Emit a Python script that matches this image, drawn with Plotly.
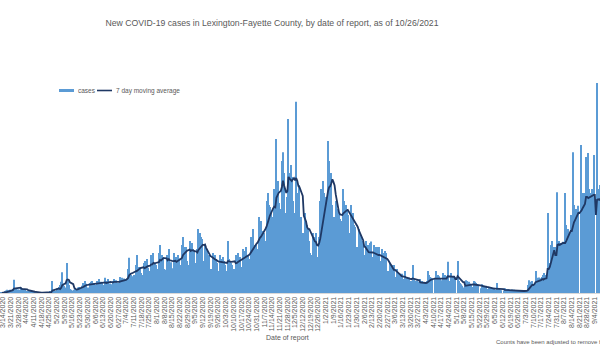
import pandas as pd
import plotly.graph_objects as go

# ---- data (daily new cases by date of report) ----
start_date = "2020-03-07"

cases_2020_spring = [
    0, 0, 0, 0, 0, 1, 0,
    1, 2, 3, 6, 8, 7, 8,
    6, 5, 10, 33, 12, 10, 8,
    9, 8, 14, 12, 10, 8, 9,
    5, 4, 3, 5, 4, 3, 4,
    1, 2, 1, 0, 2, 1, 1,
    1, 0, 2, 1, 1, 2, 1,
    2, 3, 4, 30, 6, 5, 3,
    12, 8, 15, 20, 28, 52, 20,
    18, 14, 75, 30, 20, 10, 8,
    6, 5, 8, 12, 10, 14, 15,
    12, 10, 18, 25, 22, 30, 23,
    14, 12, 25, 28, 30, 20, 25,
]
cases_2020_summer = [
    20, 15, 30, 35, 22, 28, 25,
    18, 20, 38, 25, 30, 35, 24,
    22, 18, 30, 35, 28, 32, 24,
    25, 20, 40, 38, 30, 36, 35,
    30, 35, 60, 88, 50, 45, 42,
    45, 40, 70, 95, 60, 65, 60,
    50, 45, 75, 80, 72, 85, 63,
    55, 50, 95, 80, 100, 75, 70,
    60, 55, 100, 120, 90, 95, 90,
    60, 58, 95, 85, 110, 75, 77,
    62, 55, 100, 85, 90, 95, 87,
    70, 65, 120, 140, 110, 115, 115,
    80, 70, 130, 115, 125, 110, 105,
]
cases_2020_fall = [
    75, 70, 110, 160, 150, 140, 135,
    80, 65, 120, 100, 110, 95, 95,
    60, 55, 100, 90, 95, 85, 75,
    55, 50, 95, 85, 90, 80, 70,
    55, 50, 130, 85, 80, 75, 70,
    60, 55, 95, 90, 100, 85, 90,
    65, 60, 110, 105, 115, 95, 95,
    85, 80, 140, 135, 160, 120, 120,
    110, 100, 190, 165, 180, 150, 155,
    150, 130, 230, 250, 220, 215, 205,
    190, 170, 260, 240, 385, 280, 225,
    210, 185, 330, 352, 300, 200, 175,
    240, 435, 300, 320, 290, 230, 195,
]
cases_2020_winter = [
    200, 478, 250, 230, 270, 190, 132,
    150, 130, 200, 180, 170, 160, 130,
    100, 95, 150, 140, 130, 150, 75,
    90, 140, 230, 260, 280, 250, 150,
    240, 220, 380, 330, 300, 300, 220,
    190, 160, 230, 210, 200, 200, 185,
    180, 160, 260, 230, 220, 210, 195,
    150, 130, 220, 190, 200, 170, 165,
    115, 100, 160, 150, 145, 130, 125,
    0, 95, 130, 120, 115, 125, 129,
    0, 90, 120, 110, 115, 115, 115,
    0, 80, 110, 100, 100, 105, 100,
    0, 55, 75, 70, 70, 66, 70,
]
cases_2021_spring = [
    0, 40, 60, 50, 48, 48, 48,
    0, 35, 55, 40, 40, 36, 39,
    0, 30, 70, 35, 30, 28, 31,
    0, 28, 35, 30, 30, 27, 25,
    0, 30, 55, 45, 40, 38, 37,
    0, 35, 55, 45, 45, 42, 37,
    0, 32, 50, 45, 45, 42, 78,
    0, 30, 50, 42, 40, 43, 40,
    0, 80, 30, 25, 22, 18, 14,
    0, 18, 32, 30, 28, 24, 22,
    0, 15, 30, 28, 25, 22, 20,
    0, 12, 22, 20, 18, 16, 17,
    0, 10, 14, 15, 13, 12, 13,
]
cases_2021_summer = [
    0, 8, 25, 12, 10, 8, 7,
    0, 6, 12, 10, 9, 10, 9,
    0, 5, 9, 8, 7, 7, 6,
    0, 4, 7, 6, 6, 6, 6,
    0, 5, 20, 32, 28, 25, 30,
    0, 20, 55, 38, 35, 39, 37,
    0, 40, 45, 50, 45, 40, 200,
    0, 75, 120, 130, 110, 115, 115,
    0, 252, 130, 120, 125, 120, 128,
    0, 250, 170, 160, 160, 150, 195,
    0, 352, 220, 200, 210, 200, 218,
    0, 370, 250, 240, 250, 230, 340,
    0, 350, 260, 250, 260, 250, 345,
    0, 0, 525, 260, 250, 270, 270,
    0, 300, 260, 250, 240, 230, 220,
    0, 250, 220, 210, 200, 190, 180,
]

cases = (cases_2020_spring + cases_2020_summer + cases_2020_fall
         + cases_2020_winter + cases_2021_spring + cases_2021_summer)
dates = pd.date_range(start_date, periods=len(cases), freq="D")
moving_avg = pd.Series(cases).rolling(7, min_periods=7).mean()

title_text = "New COVID-19 cases in Lexington-Fayette County, by date of report, as of 10/26/2021"
x_title = "Date of report"
footnote = "Counts have been adjusted to remove false positives"
legend_names = ["cases", "7 day moving average"]

GRAY = "#595959"
BAR_COLOR = "#5B9BD5"
LINE_COLOR = "#1F3864"
FONT = "Liberation Sans"

W, H = 600, 350
PLOT_TOP, PLOT_BOTTOM = 69, 293
PH = PLOT_BOTTOM - PLOT_TOP


def px_x(x):
    return x / W


def px_y(y):
    return (PLOT_BOTTOM - y) / PH


fig = go.Figure()
fig.add_trace(go.Bar(x=dates, y=cases, name=legend_names[0], showlegend=False,
                     marker=dict(color=BAR_COLOR, line=dict(width=0))))
fig.add_trace(go.Scatter(x=dates, y=moving_avg, mode="lines",
                         name=legend_names[1], showlegend=False,
                         line=dict(color=LINE_COLOR, width=1.8)))

fig.update_layout(
    width=W, height=H,
    margin=dict(l=0, r=0, t=PLOT_TOP, b=H - PLOT_BOTTOM),
    paper_bgcolor="white", plot_bgcolor="white",
    bargap=0.08,
    font=dict(family=FONT, color=GRAY),
    title=dict(text=title_text, x=272 / W, xanchor="center",
               y=1 - 23 / H, yanchor="middle", xref="container", yref="container",
               font=dict(family=FONT, size=8.7, color=GRAY)),
    showlegend=False,
)
fig.update_xaxes(
    type="date",
    range=["2020-03-11 06:30", "2021-09-08 17:00"],
    tick0="2020-03-14", dtick=7 * 86400000,
    tickformat="%-m/%-d/%Y", tickangle=-90,
    ticklabeloverflow="allow",
    tickfont=dict(family=FONT, size=7, color=GRAY),
    showgrid=False, showline=True, linecolor="#D9D9D9", linewidth=1,
    ticks="", zeroline=False,
)
fig.update_yaxes(range=[0, 560], visible=False, showgrid=False, zeroline=False)

# legend (drawn as a compact Excel-style legend)
fig.add_shape(type="rect", xref="paper", yref="paper",
              x0=px_x(59), x1=px_x(74), y0=px_y(92), y1=px_y(89),
              fillcolor=BAR_COLOR, line=dict(width=0))
fig.add_annotation(text=legend_names[0], xref="paper", yref="paper",
                   x=px_x(76), y=px_y(90.5), showarrow=False,
                   xanchor="left", yanchor="middle",
                   font=dict(family=FONT, size=6.5, color=GRAY))
fig.add_shape(type="line", xref="paper", yref="paper",
              x0=px_x(97), x1=px_x(112), y0=px_y(90.5), y1=px_y(90.5),
              line=dict(color=LINE_COLOR, width=1.6))
fig.add_annotation(text=legend_names[1], xref="paper", yref="paper",
                   x=px_x(114), y=px_y(90.5), showarrow=False,
                   xanchor="left", yanchor="middle",
                   font=dict(family=FONT, size=6.5, color=GRAY))

fig.add_annotation(text=x_title, xref="paper", yref="paper",
                   x=px_x(287), y=px_y(338), showarrow=False,
                   xanchor="center", yanchor="middle",
                   font=dict(family=FONT, size=7, color=GRAY))
fig.add_annotation(text=footnote, xref="paper", yref="paper",
                   x=px_x(494), y=px_y(342), showarrow=False,
                   xanchor="left", yanchor="middle",
                   font=dict(family=FONT, size=6, color=GRAY))

fig.write_html("out.html")
